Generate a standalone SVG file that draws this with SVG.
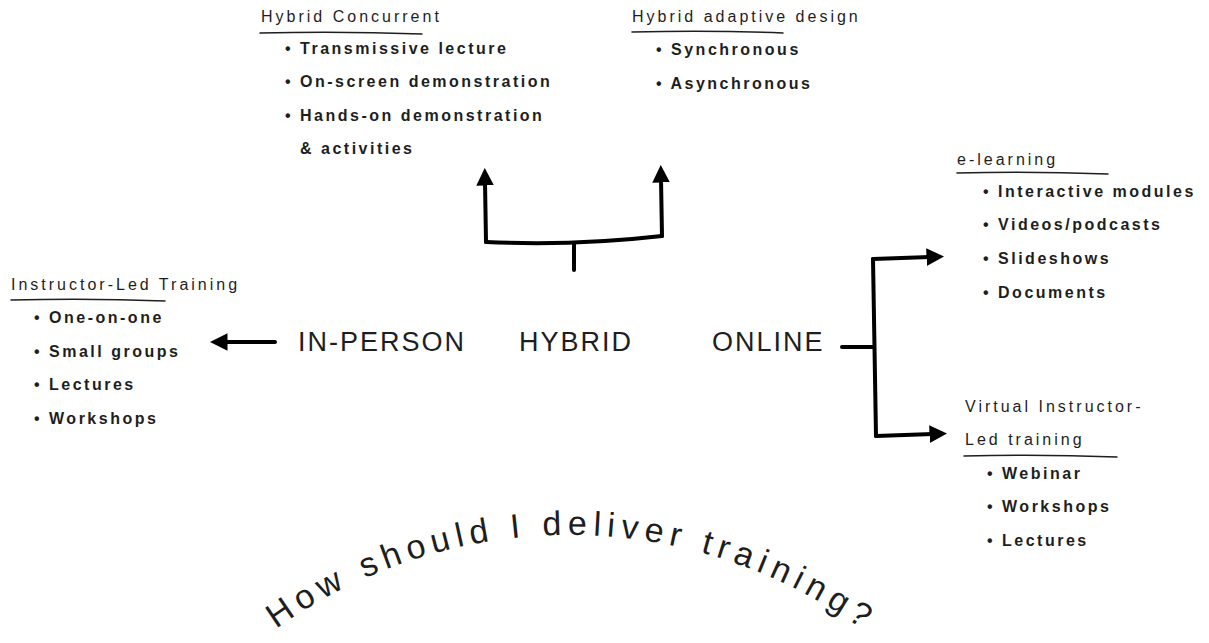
<svg xmlns="http://www.w3.org/2000/svg" xmlns:xlink="http://www.w3.org/1999/xlink" width="1209" height="643" viewBox="0 0 1209 643">
  <style>
    text { font-family: "Liberation Sans", "DejaVu Sans", sans-serif; fill: #1e1e1e; }
    .title { font-size: 16px; letter-spacing: 3px; }
    .item { font-size: 16px; letter-spacing: 2.5px; font-weight: 600; }
    .mode { font-size: 27px; letter-spacing: 2px; }
    .under { fill: none; stroke: #1e1e1e; stroke-width: 1.5; stroke-linecap: round; }
    .conn { fill: none; stroke: #000; stroke-width: 4; stroke-linecap: round; stroke-linejoin: round; }
    .question { font-size: 34px; }
  </style>
  <defs>
    <marker id="head" viewBox="0 0 10 10" refX="2" refY="5" markerWidth="4.4" markerHeight="4.4" orient="auto" markerUnits="strokeWidth">
      <path d="M0,0 L10,5 L0,10 z" fill="#000"/>
    </marker>
    <!-- baseline circle for the question: centre (569,1038), r 503 -->
    <path id="arc" d="M 213.3 682.3 A 503 503 0 0 1 924.7 682.3"/>
  </defs>

  <!-- connectors -->
  <g id="connectors">
    <path class="conn" d="M275,342 L224,342" marker-end="url(#head)"/>
    <path class="conn" d="M574,270 L574,244"/>
    <path class="conn" d="M486,242 Q575,246 662,236"/>
    <path class="conn" d="M486,242 L485,182" marker-end="url(#head)"/>
    <path class="conn" d="M662,236 L661,179" marker-end="url(#head)"/>
    <path class="conn" d="M842,347 L873,347"/>
    <path class="conn" d="M873,259 L876,436"/>
    <path class="conn" d="M873,259 L930,257" marker-end="url(#head)"/>
    <path class="conn" d="M876,436 L933,434" marker-end="url(#head)"/>
  </g>

  <!-- delivery modes -->
  <g id="in-person"><text class="mode" x="298" y="351">IN-PERSON</text></g>
  <g id="hybrid"><text class="mode" x="519" y="351">HYBRID</text></g>
  <g id="online"><text class="mode" x="712" y="351">ONLINE</text></g>

  <!-- hybrid concurrent -->
  <g id="hybrid-concurrent">
    <text class="title" x="261" y="22">Hybrid Concurrent</text>
    <path class="under" d="M260,33 Q340,31 422,34"/>
    <text class="item" x="285" y="54">• Transmissive lecture</text>
    <text class="item" x="285" y="87">• On-screen demonstration</text>
    <text class="item" x="285" y="121">• Hands-on  demonstration</text>
    <text class="item" x="300" y="154">&amp; activities</text>
  </g>

  <!-- hybrid adaptive design -->
  <g id="hybrid-adaptive">
    <text class="title" x="632" y="22">Hybrid adaptive design</text>
    <path class="under" d="M632,32 Q710,30 783,33"/>
    <text class="item" x="656" y="55">• Synchronous</text>
    <text class="item" x="656" y="89">• Asynchronous</text>
  </g>

  <!-- e-learning -->
  <g id="e-learning">
    <text class="title" x="957" y="165">e-learning</text>
    <path class="under" d="M957,173 Q1030,171 1108,174"/>
    <text class="item" x="983" y="197">• Interactive modules</text>
    <text class="item" x="983" y="230">• Videos/podcasts</text>
    <text class="item" x="983" y="264">• Slideshows</text>
    <text class="item" x="983" y="298">• Documents</text>
  </g>

  <!-- virtual instructor-led training -->
  <g id="virtual-ilt">
    <text class="title" x="965" y="412">Virtual  Instructor-</text>
    <text class="title" x="965" y="445">Led training</text>
    <path class="under" d="M964,456 Q1040,454 1117,457"/>
    <text class="item" x="987" y="479">• Webinar</text>
    <text class="item" x="987" y="512">• Workshops</text>
    <text class="item" x="987" y="546">• Lectures</text>
  </g>

  <!-- instructor-led training -->
  <g id="instructor-led">
    <text class="title" x="11" y="290">Instructor-Led Training</text>
    <path class="under" d="M11,300 Q90,298 165,301"/>
    <text class="item" x="34" y="323">• One-on-one</text>
    <text class="item" x="34" y="357">• Small groups</text>
    <text class="item" x="34" y="390">• Lectures</text>
    <text class="item" x="34" y="424">• Workshops</text>
  </g>

  <!-- question along an arc -->
  <g id="question">
    <text class="question" text-anchor="middle"><textPath xlink:href="#arc" href="#arc" startOffset="50%" textLength="625" lengthAdjust="spacing">How should I deliver training?</textPath></text>
  </g>
</svg>
